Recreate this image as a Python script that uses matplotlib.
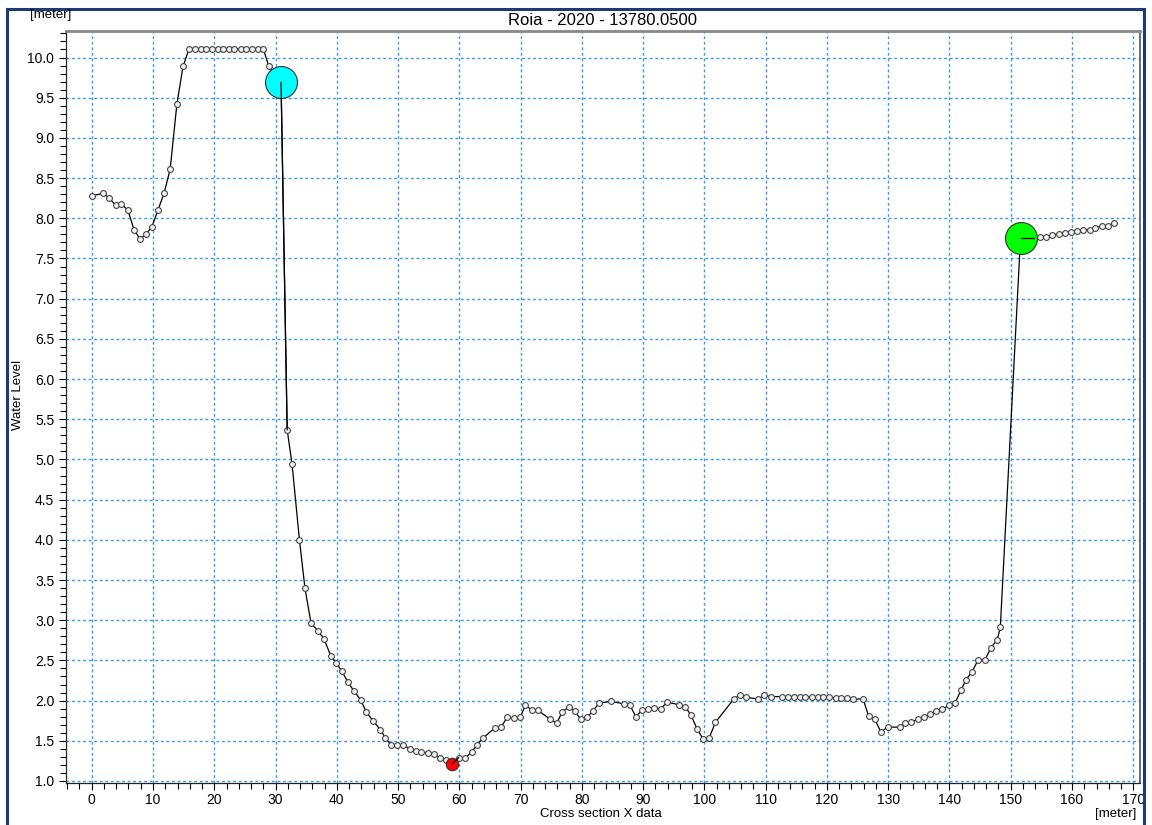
import matplotlib
matplotlib.use("Agg")
import matplotlib.pyplot as plt
from matplotlib.lines import Line2D
from matplotlib.ticker import MultipleLocator

plt.rcParams['font.family'] = ['Liberation Sans', 'DejaVu Sans']

# cross section points (x [m], level [m])
x_data = [0, 1.9, 2.9, 3.9, 4.8, 5.9, 6.9, 7.9, 8.9, 9.8, 10.8, 11.8, 12.8, 13.9, 14.9,
          15.9, 16.8, 17.8, 18.7, 19.6, 20.6, 21.5, 22.4, 23.3, 24.3, 25.2, 26.1, 27.1, 28.0,
          28.9, 30.9, 31.9, 32.7, 33.9, 34.8, 35.8, 36.9, 37.9, 39.0, 39.9, 40.8, 41.8,
          42.8, 43.9, 44.8, 45.9, 47.1, 47.9, 48.8, 49.9, 50.8, 51.9, 52.9, 53.8, 54.9,
          55.9, 56.8, 57.8, 58.8, 59.9, 60.9, 62.0, 62.9, 63.8, 65.8, 66.8, 67.8, 68.9,
          69.9, 70.8, 71.9, 72.8, 74.8, 75.9, 76.8, 77.9, 78.8, 79.8, 80.8, 81.8, 82.8,
          84.8, 86.8, 87.8, 88.8, 89.8, 90.8, 91.8, 92.9, 93.9, 95.8, 96.9, 97.8, 98.8,
          99.8, 100.8, 101.8, 104.8, 105.8, 106.8, 108.8, 109.8, 110.8,
          112.7, 113.7, 114.6, 115.6, 116.5, 117.5, 118.5, 119.4, 120.4, 121.4, 122.3,
          123.3, 124.3, 125.9, 126.8, 127.8, 128.8, 129.9, 131.9, 132.8, 133.8, 134.8,
          135.8, 136.8, 137.8, 138.8, 139.9, 140.9, 141.9, 142.7, 143.7, 144.7, 145.8,
          146.8, 147.8, 148.3, 151.6, 153.8, 154.8, 155.8, 156.8, 157.8, 158.8,
          159.8, 160.8, 161.8, 162.9, 163.8, 164.9, 165.9, 166.8]
z_data = [8.28, 8.31, 8.25, 8.16, 8.18, 8.10, 7.86, 7.74, 7.81, 7.89, 8.10, 8.31, 8.61, 9.42, 9.89,
          10.11, 10.11, 10.11, 10.11, 10.11, 10.11, 10.11, 10.11, 10.11, 10.11, 10.11, 10.11, 10.11, 10.11,
          9.89, 9.69, 5.37, 4.94, 4.00, 3.40, 2.96, 2.87, 2.77, 2.56, 2.47, 2.37, 2.23,
          2.12, 2.01, 1.86, 1.75, 1.64, 1.54, 1.45, 1.45, 1.45, 1.40, 1.37, 1.36, 1.35,
          1.34, 1.29, 1.26, 1.21, 1.29, 1.28, 1.36, 1.45, 1.53, 1.66, 1.67, 1.79, 1.78,
          1.79, 1.94, 1.88, 1.88, 1.77, 1.72, 1.86, 1.92, 1.87, 1.77, 1.79, 1.87, 1.97,
          1.99, 1.96, 1.95, 1.80, 1.88, 1.90, 1.91, 1.90, 1.98, 1.95, 1.92, 1.82, 1.65,
          1.52, 1.54, 1.73, 2.02, 2.07, 2.04, 2.02, 2.07, 2.05,
          2.05, 2.05, 2.05, 2.05, 2.05, 2.05, 2.05, 2.04, 2.04, 2.03, 2.03,
          2.03, 2.02, 2.02, 1.81, 1.77, 1.61, 1.67, 1.67, 1.72, 1.73, 1.77,
          1.79, 1.83, 1.87, 1.89, 1.94, 1.97, 2.13, 2.26, 2.36, 2.51, 2.51,
          2.66, 2.76, 2.91, 7.76, 7.76, 7.77, 7.77, 7.79, 7.81, 7.82,
          7.83, 7.84, 7.86, 7.86, 7.88, 7.90, 7.91, 7.94]

# markers: left bank, lowest point, right bank
left_bank_x = 30.9
low_point_x = 58.8
right_bank_x = 151.6

fig = plt.figure(figsize=(11.52, 8.25), dpi=100)
ax = fig.add_axes([66 / 1152, 1 - 783 / 825, (1140 - 66) / 1152, (783 - 31) / 825])

ax.plot(x_data, z_data, color='black', lw=0.9, marker='o', ms=4.2,
        mfc='#f2f2f2', mec='#444444', mew=0.8, zorder=3)

marks = [(left_bank_x, '#00FFFF', 23), (low_point_x, '#FF0000', 9), (right_bank_x, '#00FF00', 23)]
for mx, col, size in marks:
    i = x_data.index(mx)
    ax.plot(x_data[i], z_data[i], 'o', ms=size, mfc=col, mec='#333333', mew=0.8, zorder=4)
    ax.plot(x_data[i:i + 2], z_data[i:i + 2], color='black', lw=0.9, zorder=5)

ax.set_xlim(-4.2, 171.1)
ax.set_ylim(0.975, 10.33)
ax.xaxis.set_major_locator(MultipleLocator(10))
ax.xaxis.set_minor_locator(MultipleLocator(2))
ax.yaxis.set_major_locator(MultipleLocator(0.5))
ax.yaxis.set_minor_locator(MultipleLocator(0.1))
ax.yaxis.set_major_formatter(plt.FormatStrFormatter('%.1f'))
ax.tick_params(which='both', direction='out', labelsize=10, width=0.8)
ax.tick_params(which='major', length=5)
ax.tick_params(which='minor', length=4)
ax.tick_params(axis='x', pad=2)

ax.grid(True, which='major', color='#3a96f0', lw=1.0, linestyle=(0, (2, 2)))

for s in ['left', 'bottom']:
    ax.spines[s].set_color('#222222')
    ax.spines[s].set_linewidth(0.9)
ax.spines['top'].set_color('#888888')
ax.spines['top'].set_linewidth(2)
ax.spines['right'].set_color('#555555')
ax.spines['right'].set_linewidth(1.2)

ax.set_title('Roia - 2020 - 13780.0500', fontsize=12, pad=4)
fig.text(601 / 1152, 1 - 814 / 825, 'Cross section X data', ha='center', va='center', fontsize=9.5)
fig.text(1136 / 1152, 1 - 814 / 825, '[meter]', ha='right', va='center', fontsize=9.5)
fig.text(30 / 1152, 1 - 15 / 825, '[meter]', ha='left', va='center', fontsize=9.5)
fig.text(18 / 1152, 1 - 395 / 825, 'Water Level', ha='center', va='center',
         rotation=90, fontsize=9.5)

# window frame
navy = '#1c3a78'
fig.add_artist(Line2D([7 / 1152, 7 / 1152], [0, 1 - 9 / 825], color=navy, lw=2.2))
fig.add_artist(Line2D([7 / 1152, 1144 / 1152], [1 - 9 / 825, 1 - 9 / 825], color=navy, lw=2.2))
fig.add_artist(Line2D([1144 / 1152, 1144 / 1152], [0, 1 - 9 / 825], color=navy, lw=2.2))

fig.savefig('out.png', dpi=100)
